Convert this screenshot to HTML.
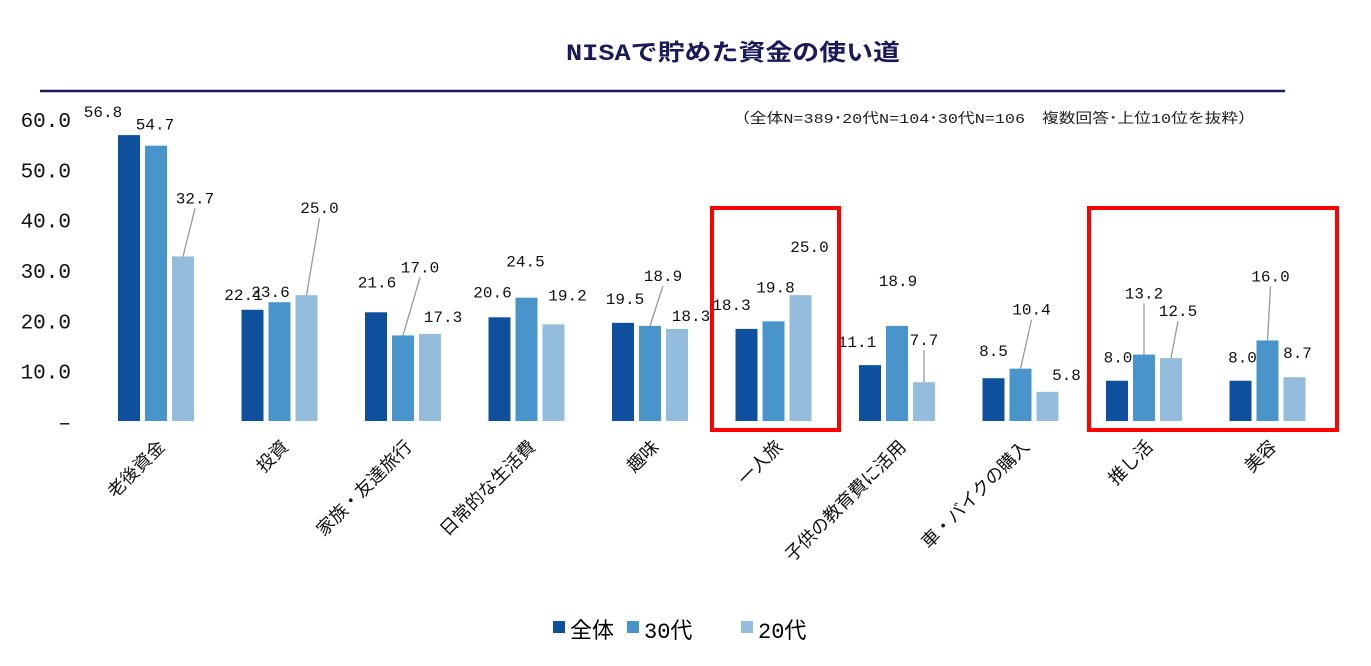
<!DOCTYPE html>
<html><head><meta charset="utf-8"><style>
body{margin:0;background:#fff;}
svg text{font-family:"Liberation Mono","Noto Sans CJK JP",monospace;}
</style></head><body>
<svg width="1371" height="661" viewBox="0 0 1371 661">
<text x="733" y="60" text-anchor="middle" font-size="23" font-weight="bold" fill="#1a1a5a" textLength="334" lengthAdjust="spacingAndGlyphs">NISAで貯めた資金の使い道</text>
<line x1="40" y1="91" x2="1285" y2="91" stroke="#1a1a5a" stroke-width="2.5"/>
<text x="733" y="123" font-size="14" fill="#222" textLength="522" lengthAdjust="spacingAndGlyphs">（全体N=389･20代N=104･30代N=106　複数回答･上位10位を抜粋）</text>
<g id="yaxis"></g>
<g id="bars"></g>
<g id="labels"></g>
<g id="xaxis"></g>
<rect x="712" y="208" width="127" height="222" fill="none" stroke="#f00" stroke-width="4"/>
<rect x="1089" y="208" width="248" height="222" fill="none" stroke="#f00" stroke-width="4"/>
<g font-size="22">
<rect x="553" y="621" width="12" height="12" fill="#0e4f9e"/>
<text x="570" y="638" font-family="Liberation Sans,Noto Sans CJK JP,sans-serif">全体</text>
<rect x="627" y="621" width="12" height="12" fill="#4a94cc"/>
<text x="644" y="638" font-family="Liberation Sans,Noto Sans CJK JP,sans-serif">30代</text>
<rect x="741" y="621" width="12" height="12" fill="#94bcdc"/>
<text x="758" y="638" font-family="Liberation Sans,Noto Sans CJK JP,sans-serif">20代</text>
</g>
</svg>
<script>
const categories=["老後資金","投資","家族・友達旅行","日常的な生活費","趣味","一人旅","子供の教育費に活用","車・バイクの購入","推し活","美容"];
const seriesAll=[56.8,22.1,21.6,20.6,19.5,18.3,11.1,8.5,8.0,8.0];
const series30=[54.7,23.6,17.0,24.5,18.9,19.8,18.9,10.4,13.2,16.0];
const series20=[32.7,25.0,17.3,19.2,18.3,25.0,7.7,5.8,12.5,8.7];
const yTicks=[0,10,20,30,40,50,60];
const tickLabels=["–","10.0","20.0","30.0","40.0","50.0","60.0"];
// label offsets (style) relative to bar top: [dx,dy,leader]
const labelOffsets=[
[[-26,-18,0],[-1,-16,0],[12,-53,1]],
[[-9,-10,0],[-9,-5,0],[13,-82,1]],
[[1,-25,0],[17,-63,1],[13,-12,0]],
[[-7,-20,0],[-1,-31,0],[14,-24,0]],
[[2,-19,0],[13,-45,1],[14,-8,0]],
[[-15,-19,0],[2,-29,0],[9,-43,0]],
[[-13,-18,0],[1,-40,0],[0,-37,1]],
[[0,-22,0],[11,-54,1],[19,-12,0]],
[[1,-18,0],[0,-56,1],[7,-42,1]],
[[2,-18,0],[3,-59,1],[3,-19,0]]];
const NS="http://www.w3.org/2000/svg";
const y0=421,pxPer=302/60;
function yScale(v){return y0-v*pxPer;}
function xCenter(i){return 156+i*123.5;}
function mk(t,a,p){const e=document.createElementNS(NS,t);for(const k in a)e.setAttribute(k,a[k]);p.appendChild(e);return e;}
const ya=document.getElementById('yaxis');
yTicks.forEach((v,i)=>{const t=mk('text',{x:71,y:yScale(v)+8,'text-anchor':'end','font-size':21,fill:'#111'},ya);t.textContent=tickLabels[i];

});
const bg=document.getElementById('bars'),lg=document.getElementById('labels'),xa=document.getElementById('xaxis');
const colors=["#0e4f9e","#4a94cc","#94bcdc"];
const series=[seriesAll,series30,series20];
const sname=["all","30s","20s"];
categories.forEach((c,i)=>{
 series.forEach((s,j)=>{
  const cx=xCenter(i)+(j-1)*27;const top=yScale(s[i]);
  const r=mk('rect',{x:cx-11,y:top,width:22,height:y0-top,fill:colors[j]},bg);
  
  
  const o=labelOffsets[i][j];const lx=cx+o[0],ly=top+o[1];
  if(o[2]){const l=mk('line',{x1:cx,y1:top,x2:lx,y2:ly+5,stroke:'#999','stroke-width':1.3},lg);
   
   }
  const t=mk('text',{x:lx,y:ly,'text-anchor':'middle','font-size':16,fill:'#111'},lg);t.textContent=s[i].toFixed(1);
  
  
 });
 const tx=xCenter(i)+2,ty=440;
 const t=mk('text',{x:tx,y:ty,'text-anchor':'end','font-size':18,fill:'#111',transform:`rotate(-45 ${tx} ${ty})`,'dominant-baseline':'hanging'},xa);
 t.setAttribute('font-family','Liberation Sans,Noto Sans CJK JP,sans-serif');
 t.textContent=c;
 
 
});
</script>
</body></html>
